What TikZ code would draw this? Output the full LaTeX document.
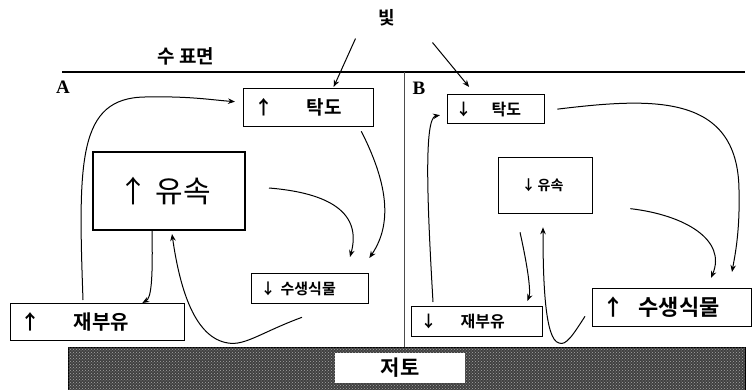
\documentclass[tikz,border=0pt]{standalone}
\usepackage{fontspec}
\newfontfamily\cjk[BoldFont={* Bold}]{Noto Sans CJK KR}
\newfontfamily\lat{Liberation Serif}
\usetikzlibrary{calc,arrows.meta,patterns}
\begin{document}
\begin{tikzpicture}[x=1pt,y=-1pt,
  box/.style={draw=black,line width=1.3pt,inner sep=0pt,anchor=north west,font=\cjk\bfseries},
  arr/.style={line width=1pt,-{Stealth[length=7pt,width=5.5pt]}},
  lab/.style={inner sep=0pt,font=\cjk\bfseries}]
\useasboundingbox (0,0) rectangle (752,390);
% surface and divider
\node[lab,font=\cjk\bfseries\fontsize{19}{19}\selectfont] (surf) at (186,56) {수 표면};
\coordinate (sl) at (62,72);
\coordinate (sr) at (745,72);
\draw[line width=1.5pt] (sl) -- (sr);
\coordinate (dt) at (404,72);
\coordinate (db) at (404,347);
\draw[line width=0.9pt,black!70] (dt) -- (db);
\node[inner sep=0pt,font=\lat\bfseries\fontsize{19}{19}\selectfont] (la) at (63,87) {A};
\node[inner sep=0pt,font=\lat\bfseries\fontsize{19}{19}\selectfont] (lb) at (419,88) {B};
\node[lab,font=\cjk\bfseries\fontsize{18}{18}\selectfont] (light) at (387,18) {빛};
% sediment
\node[draw=black,line width=1pt,fill=black!75,inner sep=0pt,anchor=north west,minimum width=677pt,minimum height=44pt] (sed) at (68,347) {};
\fill[pattern=crosshatch dots,pattern color=black!35] (68.5,347.5) rectangle (744.5,390);
\node[fill=white,inner sep=0pt,minimum width=130pt,minimum height=30pt,font=\cjk\bfseries\fontsize{21}{21}\selectfont] (jt) at (400,368) {저토};
% A boxes
\node[box,minimum width=130pt,minimum height=38pt] (ta) at (243,88)
  {\makebox[130pt][l]{\hspace{11pt}\fontsize{19}{19}\selectfont↑\hspace{33pt}탁도}};
\node[box,line width=2pt,minimum width=152pt,minimum height=78pt] (ua) at (92,151)
  {\makebox[152pt][l]{\hspace{25pt}\mdseries\fontsize{30}{30}\selectfont↑\hspace{8pt}유속}};
\node[box,minimum width=117pt,minimum height=30pt] (sa) at (251,273)
  {\makebox[117pt][l]{\hspace{9pt}\fontsize{15}{15}\selectfont↓\hspace{5pt}수생식물}};
\node[box,minimum width=174pt,minimum height=37pt] (ja) at (10,303)
  {\makebox[174pt][l]{\hspace{10pt}\fontsize{20}{20}\selectfont↑\hspace{33pt}재부유}};
% B boxes
\node[box,minimum width=97pt,minimum height=29pt] (tb) at (447,94)
  {\makebox[97pt][l]{\hspace{8pt}\fontsize{16}{16}\selectfont↓\hspace{20pt}탁도}};
\node[box,minimum width=94pt,minimum height=56pt] (ub) at (498,157)
  {\makebox[94pt][l]{\hspace{23pt}\fontsize{14}{14}\selectfont↓\hspace{2pt}유속}};
\node[box,minimum width=131pt,minimum height=30pt] (jb) at (411,306)
  {\makebox[131pt][l]{\hspace{9pt}\fontsize{16}{16}\selectfont↓\hspace{24pt}재부유}};
\node[box,minimum width=159pt,minimum height=38pt] (sb) at (592,288)
  {\makebox[159pt][l]{\hspace{10pt}\fontsize{22}{22}\selectfont↑\hspace{14pt}수생식물}};
% light arrows
\draw[arr] ($(light.south west)+(-23,12)$) -- ($(ta.north)+(25,-1)$);
\draw[arr] ($(light.south east)+(37,16)$) -- ($(tb.north)+(-27,-7)$);
% A connectors
\draw[arr] ($(ja.north west)+(73,-3)$) .. controls (78,160) and (78,98) .. (145,97)
  .. controls (190,96) and (212,100) .. ($(ta.west)+(-8,-6)$);
\draw[arr] ($(ta.south east)+(-13,4)$) .. controls (386,180) and (394,222) .. ($(sa.north east)+(0,-15)$);
\draw[arr] ($(ua.east)+(23,-3)$) .. controls (330,193) and (362,213) .. ($(sa.north west)+(99,-16)$);
\draw[arr] ($(ua.south west)+(60,0)$) .. controls (153,282) and (151,298) .. ($(ja.north east)+(-43,0)$);
\draw[arr] ($(sa.south west)+(51,13)$) .. controls (262,332) and (245,346) .. (228,343)
  .. controls (195,338) and (180,290) .. ($(ua.south west)+(80,3)$);
% B connectors
\draw[arr] ($(tb.east)+(12,0)$) .. controls (650,98) and (738,92) .. (739,190)
  .. controls (740,232) and (735,255) .. ($(sb.north west)+(140,-16)$);
\draw[arr] ($(jb.north west)+(22,-4)$) .. controls (427,200) and (424,118) .. ($(tb.west)+(-7,6)$);
\draw[arr] ($(ub.east)+(37,23)$) .. controls (685,215) and (727,240) .. ($(sb.north west)+(119,-10)$);
\draw[arr] ($(ub.south west)+(22,18)$) .. controls (528,268) and (531,292) .. ($(jb.north east)+(-16,-5)$);
\draw[arr] ($(sb.south west)+(-7,-11)$) .. controls (573,335) and (566,346) .. (559,343)
  .. controls (545,340) and (543,282) .. ($(ub.south west)+(45,13)$);
\end{tikzpicture}
\end{document}
